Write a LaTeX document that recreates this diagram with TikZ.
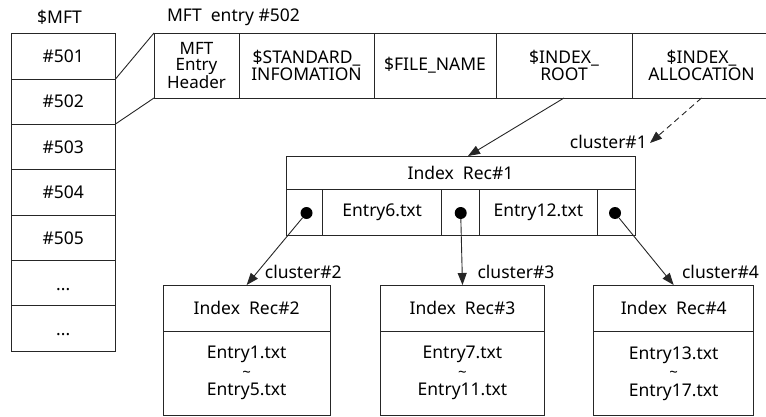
\documentclass[tikz,border=0pt]{standalone}
\usepackage{fontspec}
\setmainfont{Noto Sans}
\usetikzlibrary{arrows.meta}
\newcommand\mkcell[7][]{\node[cell,#1,minimum width={#5-#3},minimum height={#6-#4}] (#2) at ({(#3+#5)/2},{(#4+#6)/2}) {#7};}
\newcommand\lowdots{\raisebox{-7pt}[0pt][0pt]{...}}
\newcommand\tildeline{{\fontsize{15}{18.5}\selectfont\textasciitilde}}
\begin{document}
\begin{tikzpicture}[x=1pt,y=-1pt,
  cell/.style={draw=black!85,line width=0.9pt,inner sep=0pt,outer sep=0pt,align=center,font=\fontsize{17.5}{17}\selectfont},
  lbl/.style={inner sep=0pt,font=\fontsize{17.5}{17}\selectfont},
  dotnode/.style={circle,fill=black,inner sep=0pt,minimum size=12pt},
  conn/.style={draw=black!85,line width=0.9pt},
  arr/.style={conn,-{Triangle[length=12pt,width=9pt]}},
  body/.style={font=\fontsize{17.5}{18.5}\selectfont},
]
\useasboundingbox (0,0) rectangle (766,417);
\clip (0,0) rectangle (766,417);
% $MFT column
\node[lbl] (mftlbl) at (59.5,17.5) {\$MFT};
\mkcell{m1}{11}{33}{115.5}{79}{\#501}
\mkcell{m2}{11}{79}{115.5}{124}{\#502}
\mkcell{m3}{11}{124}{115.5}{169.5}{\#503}
\mkcell{m4}{11}{169.5}{115.5}{215}{\#504}
\mkcell{m5}{11}{215}{115.5}{260.5}{\#505}
\mkcell{m6}{11}{260.5}{115.5}{305.5}{\lowdots}
\mkcell{m7}{11}{305.5}{115.5}{351}{\lowdots}
% MFT entry
\node[lbl] (entrylbl) at (233.5,17.5) {MFT\ \ entry \#502};
\mkcell[font=\fontsize{17}{15.5}\selectfont]{e1}{154}{33}{239}{98}{MFT\\Entry\\Header}
\mkcell{e2}{239}{33}{374}{98}{\$STANDARD\_\\INFOMATION}
\mkcell{e3}{374}{33}{496}{98}{\$FILE\_NAME}
\mkcell{e4}{496}{33}{632}{98}{\$INDEX\_\\ROOT}
\mkcell{e5}{632}{33}{771}{98}{\$INDEX\_\\ALLOCATION}
\draw[conn] (m2.north east) -- (e1.north west);
\draw[conn] (m2.south east) -- (e1.south west);
% Index Rec#1
\mkcell{rec1}{286}{156}{635}{189}{Index\ \ Rec\#1}
\mkcell{d1}{286}{189}{322.7}{235}{}
\mkcell{en6}{322.7}{189}{441.7}{235}{Entry6.txt}
\mkcell{d2}{441.7}{189}{479}{235}{}
\mkcell{en12}{479}{189}{597.7}{235}{Entry12.txt}
\mkcell{d3}{597.7}{189}{635}{235}{}
\node[dotnode] (p1) at (306.5,213) {};
\node[dotnode] (p2) at (460.7,213) {};
\node[dotnode] (p3) at (615,213) {};
\coordinate (r1in) at (468,156);
\draw[arr] (e4.south) -- (r1in);
\coordinate (c1tip) at (650,143);
\draw[arr,dash pattern=on 6pt off 4pt] (e5.south) -- (c1tip);
\node[lbl,anchor=east] (c1) at (647,142) {cluster\#1};
% lower records
\mkcell{b2t}{163.3}{285}{330}{331}{Index\ \ Rec\#2}
\mkcell[body]{b2b}{163.3}{331}{330}{415.7}{Entry1.txt\\\tildeline\\Entry5.txt}
\mkcell{b3t}{380.7}{285}{544.3}{331}{Index\ \ Rec\#3}
\mkcell[body]{b3b}{380.7}{331}{544.3}{415.7}{Entry7.txt\\\tildeline\\Entry11.txt}
\mkcell{b4t}{593.7}{285}{753.7}{331}{Index\ \ Rec\#4}
\mkcell[body]{b4b}{593.7}{331}{753.7}{415.7}{Entry13.txt\\\tildeline\\Entry17.txt}
\draw[arr] (p1) -- (b2t.north);
\draw[arr] (p2) -- (b3t.north);
\draw[arr] (p3) -- (b4t.north);
\node[lbl] (c2) at (303.3,271.7) {cluster\#2};
\node[lbl] (c3) at (516,271.7) {cluster\#3};
\node[lbl] (c4) at (720.5,271.7) {cluster\#4};
\end{tikzpicture}
\end{document}
